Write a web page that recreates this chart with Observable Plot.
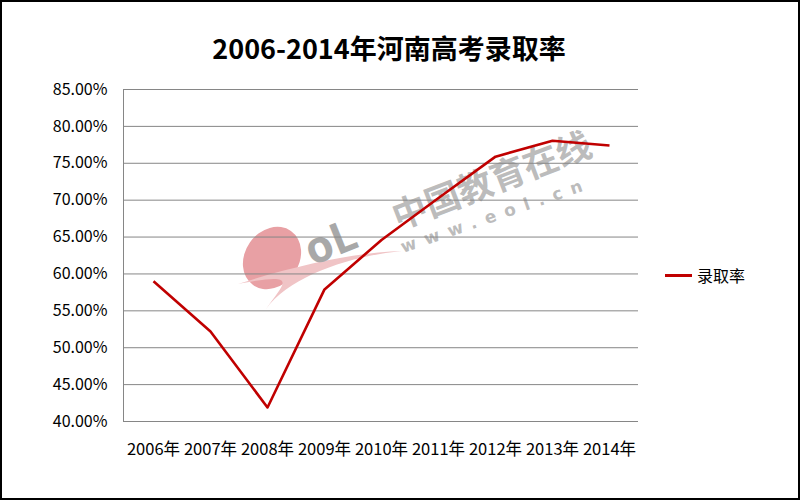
<!DOCTYPE html>
<html>
<head>
<meta charset="utf-8">
<script src="https://cdn.jsdelivr.net/npm/d3@7"></script>
<script src="https://cdn.jsdelivr.net/npm/@observablehq/plot@0.6"></script>
<style>
  html, body { margin: 0; padding: 0; background: #fff; }
  #wrap { position: relative; width: 800px; height: 500px; overflow: hidden; font-family: "Noto Sans CJK SC", "Noto Sans", sans-serif; }
  #frame { position: absolute; left: 0; top: 0; width: 800px; height: 500px; box-sizing: border-box; border: 2px solid #000; pointer-events: none; z-index: 5; }
  #title { position: absolute; left: 0; width: 778px; top: 28px; text-align: center; font-size: 27px; font-weight: bold; color: #000; z-index: 3; }
  #chart { position: absolute; left: 0; top: 0; z-index: 2; }
  #wm { position: absolute; left: 0; top: 0; z-index: 1; }
  #legend { position: absolute; left: 665px; top: 263px; font-size: 16px; display: flex; align-items: center; z-index: 3; }
  #legend .sw { width: 27px; height: 3px; background: #C00000; margin-right: 5px; }
</style>
</head>
<body>
<div id="wrap">
  <div id="wm">
    <svg width="800" height="500" xmlns="http://www.w3.org/2000/svg">
      <ellipse cx="272" cy="258" rx="27" ry="33" transform="rotate(35 272 258)" fill="#e8a0a4"/>
      <path d="M238,284 C300,264 360,252 402,251 C350,256 290,276 266,309 C285,282 300,272 238,284 Z" fill="#f0c4c6"/>
      <text x="312" y="266" font-family="Noto Sans, sans-serif" font-weight="bold" font-size="44" fill="#a8a8a8" transform="rotate(-22 312 266)">oL</text>
      <text x="398" y="230" font-family="Noto Sans CJK SC" font-weight="bold" font-size="35" fill="#b0b0b0" fill-opacity="0.85" transform="rotate(-21 398 230)">中国教育在线</text>
      <text x="403" y="253" font-family="DejaVu Sans" font-weight="bold" font-size="17" letter-spacing="9" fill="#b0b0b0" fill-opacity="0.85" transform="rotate(-19 403 253)">www.eol.cn</text>
    </svg>
  </div>
  <div id="chart"></div>
  <div id="title">2006-2014年河南高考录取率</div>
  <div id="legend"><div class="sw"></div><span>录取率</span></div>
  <div id="frame"></div>
</div>
<script>
const years = ["2006年","2007年","2008年","2009年","2010年","2011年","2012年","2013年","2014年"];
const rates = [59.0, 52.2, 41.9, 57.9, 64.6, 70.3, 75.9, 78.05, 77.4];
const yTicks = [40, 45, 50, 55, 60, 65, 70, 75, 80, 85];
const seriesName = "录取率";

const data = years.map((y, i) => ({year: y, rate: rates[i], series: seriesName}));

const chart = Plot.plot({
  width: 800,
  height: 500,
  marginLeft: 123,
  marginRight: 162,
  marginTop: 89,
  marginBottom: 79,
  style: {background: "transparent", fontFamily: "'Noto Sans CJK SC', 'Noto Sans', sans-serif", fontSize: "16px", color: "#000"},
  x: {type: "point", domain: years, padding: 0.5, label: null},
  y: {domain: [40, 85], label: null},
  marks: [
    Plot.gridY(yTicks, {stroke: "#868686", strokeOpacity: 1, strokeWidth: 1}),
    Plot.axisY(yTicks, {tickSize: 0, tickPadding: 16, tickFormat: d => d.toFixed(2) + "%", fontSize: 16, fill: "#000"}),
    Plot.axisX(years, {tickSize: 0, tickPadding: 22, fontSize: 16.5, fill: "#000"}),
    Plot.line(data, {x: "year", y: "rate", stroke: "#C00000", strokeWidth: 2.6, strokeLinejoin: "round", strokeLinecap: "butt"})
  ]
});
// left axis line at the start of the x scale's range, spanning the y domain
const xs = chart.scale("x"), ys = chart.scale("y");
const x0 = Math.round(xs.range[0]) + 0.5;
d3.select(chart).insert("line", "g[aria-label='line']")
  .attr("x1", x0).attr("x2", x0)
  .attr("y1", ys.apply(ys.domain[0])).attr("y2", ys.apply(ys.domain[1]))
  .attr("stroke", "#868686");
document.getElementById("chart").appendChild(chart);
</script>
</body>
</html>
